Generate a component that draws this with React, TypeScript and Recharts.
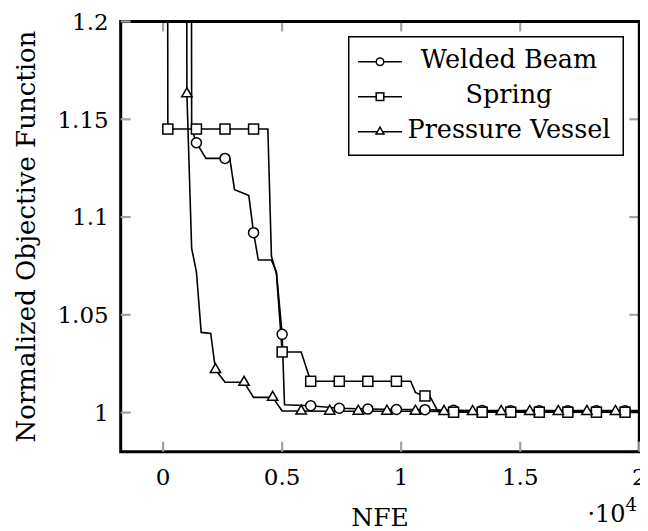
import React from "react";
import { ComposedChart, Line, XAxis, YAxis, Legend, CartesianGrid, ReferenceArea } from "recharts";

const FONT = '"DejaVu Serif", serif';

const seriesNames = ["Welded Beam", "Spring", "Pressure Vessel"];

// Welded Beam (circles)
const weldedX = [1000, 1200, 1400, 1800, 2600, 2800, 3000, 3400, 3600, 3800, 4000, 4550, 4760, 5000, 5100, 6200, 7400, 8600, 9800, 11000, 12200, 13400, 14600, 15800, 17000, 18200, 19400, 20000];
const weldedY = [3.0, 1.145, 1.138, 1.13, 1.13, 1.13, 1.114, 1.112, 1.111, 1.092, 1.078, 1.078, 1.072, 1.04, 1.004, 1.0035, 1.0022, 1.0018, 1.0016, 1.0015, 1.0012, 1.0011, 1.001, 1.001, 1.001, 1.001, 1.001, 1.001];
const weldedMarks = [1400, 2600, 3800, 5000, 6200, 7400, 8600, 9800, 11000, 12200, 13400, 14600, 15800, 17000, 18200, 19400];

// Spring (squares)
const springX = [0, 200, 1400, 2600, 3800, 4400, 4550, 4760, 5000, 5800, 6200, 7400, 8600, 9800, 10400, 10600, 11000, 11200, 11550, 12200, 13400, 14600, 15800, 17000, 18200, 19400, 20000];
const springY = [3.0, 1.145, 1.145, 1.145, 1.145, 1.145, 1.08, 1.071, 1.031, 1.031, 1.016, 1.016, 1.016, 1.016, 1.016, 1.0102, 1.0085, 1.0085, 1.0005, 1.0002, 1.0002, 1.0002, 1.0002, 1.0002, 1.0002, 1.0002, 1.0002];
const springMarks = [200, 1400, 2600, 3800, 5000, 6200, 7400, 8600, 9800, 11000, 12200, 13400, 14600, 15800, 17000, 18200, 19400];

// Pressure Vessel (triangles)
const vesselX = [800, 1000, 1200, 1400, 1600, 2000, 2200, 2600, 3400, 3800, 4600, 5000, 5800, 7000, 8200, 9400, 10600, 11800, 13000, 14200, 15400, 16600, 17800, 19000, 20000];
const vesselY = [3.0, 1.163, 1.084, 1.072, 1.041, 1.0405, 1.022, 1.0155, 1.0155, 1.0078, 1.0078, 1.0008, 1.0008, 1.0007, 1.0007, 1.0007, 1.0007, 1.0006, 1.0006, 1.0006, 1.0006, 1.0006, 1.0006, 1.0006, 1.0006];
const vesselMarks = [1000, 2200, 3400, 4600, 5800, 7000, 8200, 9400, 10600, 11800, 13000, 14200, 15400, 16600, 17800, 19000];

const xTicks = [0, 5000, 10000, 15000, 20000];
const yTicks = [1, 1.05, 1.1, 1.15, 1.2];
const X_DOMAIN = [-1780, 20000];
const Y_DOMAIN = [0.98, 1.2];

const toRows = (xs: number[], ys: number[]) => xs.map((x, i) => ({ x, y: ys[i] }));

const weldedData = toRows(weldedX, weldedY);
const springData = toRows(springX, springY);
const vesselData = toRows(vesselX, vesselY);

type Shape = "circle" | "square" | "triangle";

const Marker = ({ shape, cx, cy, s }: { shape: Shape; cx: number; cy: number; s: number }) => {
  const common = { fill: "#fff", stroke: "#000", strokeWidth: 1.5 };
  if (shape === "circle") return <circle cx={cx} cy={cy} r={s} {...common} />;
  if (shape === "square") return <rect x={cx - s} y={cy - s} width={2 * s} height={2 * s} {...common} />;
  const r = s * 1.2;
  const pts = `${cx},${cy - r} ${cx - r * 0.866},${cy + r / 2} ${cx + r * 0.866},${cy + r / 2}`;
  return <polygon points={pts} {...common} />;
};

const dotFor = (shape: Shape, marks: number[]) => (props: any) => {
  const { cx, cy, payload, index } = props;
  if (!marks.includes(payload.x)) return <g key={`n-${shape}-${index}`} />;
  return (
    <g key={`m-${shape}-${index}`}>
      <Marker shape={shape} cx={cx} cy={cy} s={5} />
    </g>
  );
};

const legendShapes: Shape[] = ["circle", "square", "triangle"];

const renderLegend = () => (
  <svg width={276} height={120} style={{ display: "block" }}>
    <rect x={0.75} y={0.75} width={274.5} height={118.5} fill="#fff" stroke="#000" strokeWidth={1.5} />
    {seriesNames.map((name, i) => {
      const cy = 25.7 + i * 35;
      return (
        <g key={name}>
          <line x1={10} x2={54} y1={cy} y2={cy} stroke="#000" strokeWidth={1.6} />
          <Marker shape={legendShapes[i]} cx={32} cy={cy} s={3.8} />
          <text x={161} y={cy + 6} textAnchor="middle" fontFamily={FONT} fontSize={25.5} fill="#000">
            {name}
          </text>
        </g>
      );
    })}
  </svg>
);

const xLabel = () => (
  <g>
    <text x={372} y={518} textAnchor="middle" fontFamily={FONT} fontSize={25} fill="#000">
      NFE
    </text>
    <text x={629} y={514} textAnchor="end" fontFamily={FONT} fontSize={24} fill="#000">
      ·10<tspan dy={-11} fontSize={18}>4</tspan>
    </text>
  </g>
);

const yLabel = () => (
  <text x={27} y={228.6} transform="rotate(-90, 27, 228.6)" textAnchor="middle" fontFamily={FONT} fontSize={26} fill="#000">
    Normalized Objective Function
  </text>
);

const TICK_LEN = 10;
const TICK_COLOR = "#a0a0a0";
const TICK_W = 2.2;
const TICK_FS = 23;

// tick labels (+ inward marks on bottom/left); tickSize/tickMargin are 0 so (x, y) sits on the axis
const bottomTick = (p: any) => (
  <g>
    <line x1={p.payload.coordinate} x2={p.payload.coordinate} y1={p.y} y2={p.y - TICK_LEN} stroke={TICK_COLOR} strokeWidth={TICK_W} />
    <text x={p.payload.coordinate} y={p.y + 33.3} textAnchor="middle" fontFamily={FONT} fontSize={TICK_FS} fill="#000">
      {String(p.payload.value / 10000)}
    </text>
  </g>
);
const leftTick = (p: any) => (
  <g>
    <line x1={p.x} x2={p.x + TICK_LEN} y1={p.payload.coordinate} y2={p.payload.coordinate} stroke={TICK_COLOR} strokeWidth={TICK_W} />
    <text x={p.x - 12} y={p.payload.coordinate + 8.4} textAnchor="end" fontFamily={FONT} fontSize={TICK_FS} fill="#000">
      {String(p.payload.value)}
    </text>
  </g>
);

// inward tick marks on the top and right sides, from the grid line positions
const hTicks = (p: any) => (
  <line key={`h-${p.index}`} x1={p.x2 - TICK_LEN} x2={p.x2} y1={p.y1} y2={p.y1} stroke={TICK_COLOR} strokeWidth={TICK_W} />
);
const vTicks = (p: any) => (
  <line key={`v-${p.index}`} x1={p.x1} x2={p.x1} y1={p.y1} y2={p.y1 + TICK_LEN} stroke={TICK_COLOR} strokeWidth={TICK_W} />
);

export default function App() {
  return (
    <div style={{ width: 640, height: 523 }}>
      <ComposedChart width={640} height={523} margin={{ top: 13.5, right: 8.7, left: 0, bottom: 0 }}>
        <CartesianGrid xAxisId="b" yAxisId="l" horizontal={hTicks} vertical={vTicks} />
        <XAxis
          xAxisId="b"
          dataKey="x"
          type="number"
          domain={X_DOMAIN}
          allowDataOverflow
          ticks={xTicks}
          interval={0}
          height={79.3}
          tickSize={0}
          tickMargin={0}
          tickLine={false}
          axisLine={false}
          tick={bottomTick}
          label={{ content: xLabel }}
        />
        <YAxis
          yAxisId="l"
          type="number"
          domain={Y_DOMAIN}
          allowDataOverflow
          ticks={yTicks}
          interval={0}
          width={112.7}
          tickSize={0}
          tickMargin={0}
          tickLine={false}
          axisLine={false}
          tick={leftTick}
          label={{ content: yLabel }}
        />
        {/* plot frame */}
        <ReferenceArea
          xAxisId="b"
          yAxisId="l"
          x1={X_DOMAIN[0]}
          x2={X_DOMAIN[1]}
          y1={Y_DOMAIN[0]}
          y2={Y_DOMAIN[1]}
          fill="#fff"
          fillOpacity={0.05}
          stroke="#000"
          strokeWidth={3}
          ifOverflow="visible"
        />
        <Line
          xAxisId="b"
          yAxisId="l"
          data={weldedData}
          dataKey="y"
          name={seriesNames[0]}
          type="linear"
          stroke="#000"
          strokeWidth={1.6}
          dot={dotFor("circle", weldedMarks)}
          activeDot={false}
          isAnimationActive={false}
        />
        <Line
          xAxisId="b"
          yAxisId="l"
          data={springData}
          dataKey="y"
          name={seriesNames[1]}
          type="linear"
          stroke="#000"
          strokeWidth={1.6}
          dot={dotFor("square", springMarks)}
          activeDot={false}
          isAnimationActive={false}
        />
        <Line
          xAxisId="b"
          yAxisId="l"
          data={vesselData}
          dataKey="y"
          name={seriesNames[2]}
          type="linear"
          stroke="#000"
          strokeWidth={1.6}
          dot={dotFor("triangle", vesselMarks)}
          activeDot={false}
          isAnimationActive={false}
        />
        <Legend
          content={renderLegend}
          layout="vertical"
          align="center"
          verticalAlign="middle"
          wrapperStyle={{ left: 340, top: 28, width: 276, height: 120 }}
        />
      </ComposedChart>
    </div>
  );
}
